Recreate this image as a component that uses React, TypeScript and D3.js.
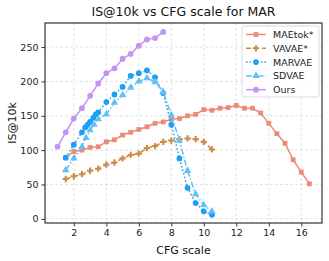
import React, { useRef, useEffect } from "react";
import * as d3 from "d3";

// CFG scale values per series
const maetokX = d3.range(1.5, 16.51, 0.5);
const maetokY = [89, 98, 100, 104, 105, 112, 115, 122, 126, 130, 134, 139, 141, 145, 146, 150, 152, 159, 158, 161, 162, 165, 161, 161, 154, 139, 124, 110, 86, 68, 51];

const vavaeX = d3.range(1.5, 10.51, 0.5);
const vavaeY = [58, 62, 65, 70, 73, 79, 82, 88, 93, 95, 103, 106, 112, 114, 116, 117, 116, 112, 101];

const marvaeX = [1.5, 2, 2.5, 2.7, 2.85, 3, 3.2, 3.35, 3.5, 4, 4.5, 5, 5.5, 6, 6.5, 7, 7.5, 8, 8.5, 9, 9.5, 10, 10.5];
const marvaeY = [89, 108, 126, 133, 137, 141, 147, 152, 155, 170, 181, 192, 208, 212, 216, 206, 183, 137, 88, 45, 23, 11, 6];

const sdvaeX = [1.5, 2, 2.5, 2.75, 3, 3.25, 3.5, 4, 4.5, 5, 5.5, 6, 6.5, 7, 7.5, 8, 8.5, 9, 9.5, 10, 10.5];
const sdvaeY = [71, 88, 105, 118, 129, 137, 145, 152, 169, 180, 191, 200, 205, 199, 185, 151, 114, 70, 36, 20, 11];

const oursX = d3.range(1, 7.51, 0.5);
const oursY = [105, 126, 146, 161, 179, 197, 212, 219, 233, 240, 252, 261, 263, 272];

const xTicks = [2, 4, 6, 8, 10, 12, 14, 16];
const yTicks = [0, 50, 100, 150, 200, 250];

const series = [
  { name: "MAEtok*", xs: maetokX, ys: maetokY, color: "#ec8a74", dash: "", marker: "square" },
  { name: "VAVAE*", xs: vavaeX, ys: vavaeY, color: "#cd8b45", dash: "5 3", marker: "plus" },
  { name: "MARVAE", xs: marvaeX, ys: marvaeY, color: "#1e9ff5", dash: "1.5 2.2", marker: "circle" },
  { name: "SDVAE", xs: sdvaeX, ys: sdvaeY, color: "#62c0f7", dash: "6 2 1.5 2", marker: "triangle" },
  { name: "Ours", xs: oursX, ys: oursY, color: "#c494f5", dash: "", marker: "circle" },
];

const W = 329;
const H = 261;
const margin = { top: 23, right: 7, bottom: 38, left: 45 };

function drawMarker(g, type, x, y, color) {
  if (type === "square") {
    g.append("rect").attr("x", x - 2.4).attr("y", y - 2.4).attr("width", 4.8).attr("height", 4.8).attr("fill", color);
  } else if (type === "circle") {
    g.append("circle").attr("cx", x).attr("cy", y).attr("r", 2.9).attr("fill", color);
  } else if (type === "triangle") {
    g.append("path").attr("d", d3.symbol(d3.symbolTriangle, 24)()).attr("transform", `translate(${x},${y})`).attr("fill", color);
  } else if (type === "plus") {
    g.append("path").attr("d", d3.symbol(d3.symbolCross, 22)()).attr("transform", `translate(${x},${y})`).attr("fill", color);
  }
}

function App() {
  const svgRef = useRef(null);

  useEffect(() => {
    const svg = d3.select(svgRef.current);
    svg.selectAll("*").remove();
    const font = "DejaVu Sans, sans-serif";

    const x = d3.scaleLinear().domain([0.225, 17.275]).range([margin.left, W - margin.right]);
    const y = d3.scaleLinear().domain([-6, 285]).range([H - margin.bottom, margin.top]);

    // grid
    const grid = svg.append("g").attr("stroke", "#dcdcdc").attr("stroke-width", 0.8).attr("stroke-dasharray", "3 2");
    xTicks.forEach((t) => grid.append("line").attr("x1", x(t)).attr("x2", x(t)).attr("y1", margin.top).attr("y2", H - margin.bottom));
    yTicks.forEach((t) => grid.append("line").attr("y1", y(t)).attr("y2", y(t)).attr("x1", margin.left).attr("x2", W - margin.right));

    // series
    series.forEach((s) => {
      const pts = s.xs.map((v, i) => [x(v), y(s.ys[i])]);
      svg.append("path")
        .attr("d", d3.line()(pts))
        .attr("fill", "none")
        .attr("stroke", s.color)
        .attr("stroke-width", 1.5)
        .attr("stroke-dasharray", s.dash || null);
      const mg = svg.append("g");
      pts.forEach(([px, py]) => drawMarker(mg, s.marker, px, py, s.color));
    });

    // axes
    const xAxis = svg.append("g")
      .attr("transform", `translate(0,${H - margin.bottom})`)
      .call(d3.axisBottom(x).tickValues(xTicks).tickSize(3.5).tickSizeOuter(0));
    const yAxis = svg.append("g")
      .attr("transform", `translate(${margin.left},0)`)
      .call(d3.axisLeft(y).tickValues(yTicks).tickSize(3.5).tickSizeOuter(0));
    [xAxis, yAxis].forEach((a) => {
      a.selectAll("text").attr("font-family", font).attr("font-size", 9.5).attr("fill", "#222");
      a.selectAll("line").attr("stroke", "#333");
      a.select(".domain").remove();
    });

    // frame
    svg.append("rect")
      .attr("x", margin.left).attr("y", margin.top)
      .attr("width", W - margin.left - margin.right)
      .attr("height", H - margin.top - margin.bottom)
      .attr("fill", "none").attr("stroke", "#333").attr("stroke-width", 1.2);

    // titles
    svg.append("text").attr("x", (margin.left + W - margin.right) / 2).attr("y", 16)
      .attr("text-anchor", "middle").attr("font-family", font).attr("font-size", 12.5).attr("fill", "#111")
      .text("IS@10k vs CFG scale for MAR");
    svg.append("text").attr("x", (margin.left + W - margin.right) / 2).attr("y", H - 7)
      .attr("text-anchor", "middle").attr("font-family", font).attr("font-size", 11).attr("fill", "#111")
      .text("CFG scale");
    svg.append("text").attr("transform", "rotate(-90)")
      .attr("x", -(margin.top + H - margin.bottom) / 2).attr("y", 16)
      .attr("text-anchor", "middle").attr("font-family", font).attr("font-size", 11).attr("fill", "#111")
      .text("IS@10k");

    // legend
    const lg = svg.append("g");
    lg.append("rect").attr("x", 242).attr("y", 26).attr("width", 77).attr("height", 71).attr("rx", 2)
      .attr("fill", "white").attr("fill-opacity", 0.85).attr("stroke", "#d0d0d0").attr("stroke-width", 0.8);
    series.forEach((s, i) => {
      const ly = 34.5 + i * 13.8;
      lg.append("line").attr("x1", 246).attr("x2", 266).attr("y1", ly).attr("y2", ly)
        .attr("stroke", s.color).attr("stroke-width", 1.5).attr("stroke-dasharray", s.dash || null);
      drawMarker(lg, s.marker, 256, ly, s.color);
      lg.append("text").attr("x", 273).attr("y", ly + 3.4).attr("font-family", font).attr("font-size", 9.5)
        .attr("fill", "#222").text(s.name);
    });
  }, []);

  return <svg ref={svgRef} width={W} height={H} style={{ display: "block", position: "absolute", left: 0, top: 0 }} />;
}

export default App;
